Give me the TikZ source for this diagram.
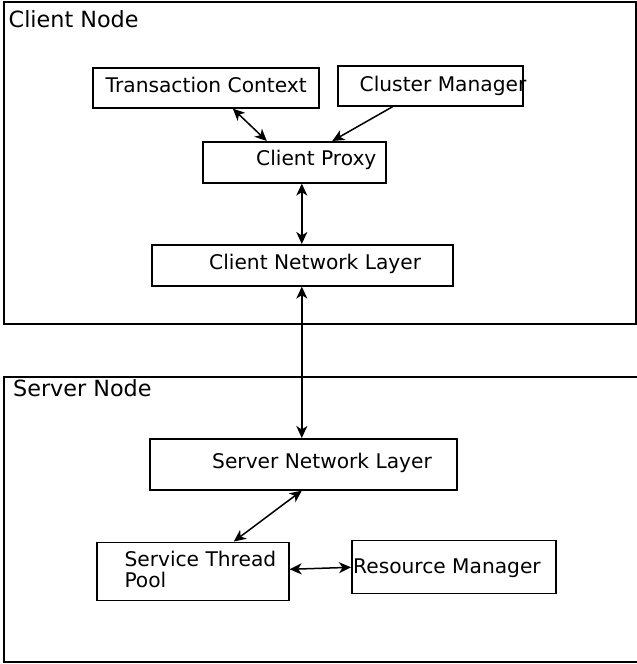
\documentclass[tikz,border=0pt]{standalone}
\usepackage{fontspec}
\setmainfont{DejaVu Sans}
\usetikzlibrary{arrows.meta}
\begin{document}
\begin{tikzpicture}[x=1pt,y=-1pt,
  box/.style={draw,line width=1.6pt,inner sep=0pt,anchor=north west},
  lbl/.style={anchor=base west,inner sep=0pt,font=\fontsize{20.2}{20.6}\selectfont},
  ttl/.style={anchor=base west,inner sep=0pt,font=\fontsize{22.3}{24}\selectfont},
  con/.style={line width=1.5pt,{Stealth[length=12pt,width=11pt,inset=3.5pt]}-{Stealth[length=12pt,width=11pt,inset=3.5pt]}},
  one/.style={line width=1.5pt,-{Stealth[length=12pt,width=11pt,inset=3.5pt]}}]
\useasboundingbox (0,0) rectangle (637,664);
% containers
\draw[line width=1.6pt] (4,2) rectangle (636,324);
\node[ttl] (tclient) at (8.5,27.3) {Client Node};
\draw[line width=1.6pt] (645,377) -- (4,377) -- (4,662) -- (645,662);
\node[ttl] (tserver) at (13,396) {Server Node};
% boxes
\node[box,minimum width=226pt,minimum height=40pt] (tc) at (92,67) {};
\node[lbl] (tctxt) at (105.5,92) {Transaction Context};
\node[box,minimum width=185pt,minimum height=40pt] (cm) at (337,65) {};
\node[lbl] (cmtxt) at (359.5,91.5) {Cluster Manager};
\node[box,minimum width=183pt,minimum height=41pt] (cp) at (202,141) {};
\node[lbl] (cptxt) at (256,165) {Client Proxy};
\node[box,minimum width=301pt,minimum height=41pt] (cnl) at (151,244) {};
\node[lbl] (cnltxt) at (209,269.5) {Client Network Layer};
\node[box,minimum width=307pt,minimum height=51pt] (snl) at (149,438) {};
\node[lbl] (snltxt) at (212,468.5) {Server Network Layer};
\node[box,minimum width=192pt,minimum height=58pt] (stp) at (96,541.5) {};
\node[lbl] (stptxt1) at (124.3,566.7) {Service Thread};
\node[lbl] (stptxt2) at (124.3,587.3) {Pool};
\node[box,minimum width=204pt,minimum height=53pt] (rm) at (351,539.5) {};
\node[lbl] (rmtxt) at (353,573.3) {Resource Manager};
% connectors
\draw[con] ([xshift=27pt]tc.south) -- ([xshift=-27.5pt]cp.north);
\draw[one] ([xshift=-37.5pt]cm.south) -- ([xshift=38pt]cp.north);
\draw[con] ([xshift=7.5pt]cp.south) -- ([xshift=-0.5pt]cnl.north);
\draw[con] ([xshift=-0.5pt]cnl.south) -- ([xshift=-1.5pt]snl.north);
\draw[con] ([xshift=-1.5pt]snl.south) -- ([xshift=41pt]stp.north);
\draw[con] ([yshift=2pt]stp.east) -- ([yshift=-0.5pt]rm.west);
\end{tikzpicture}
\end{document}
